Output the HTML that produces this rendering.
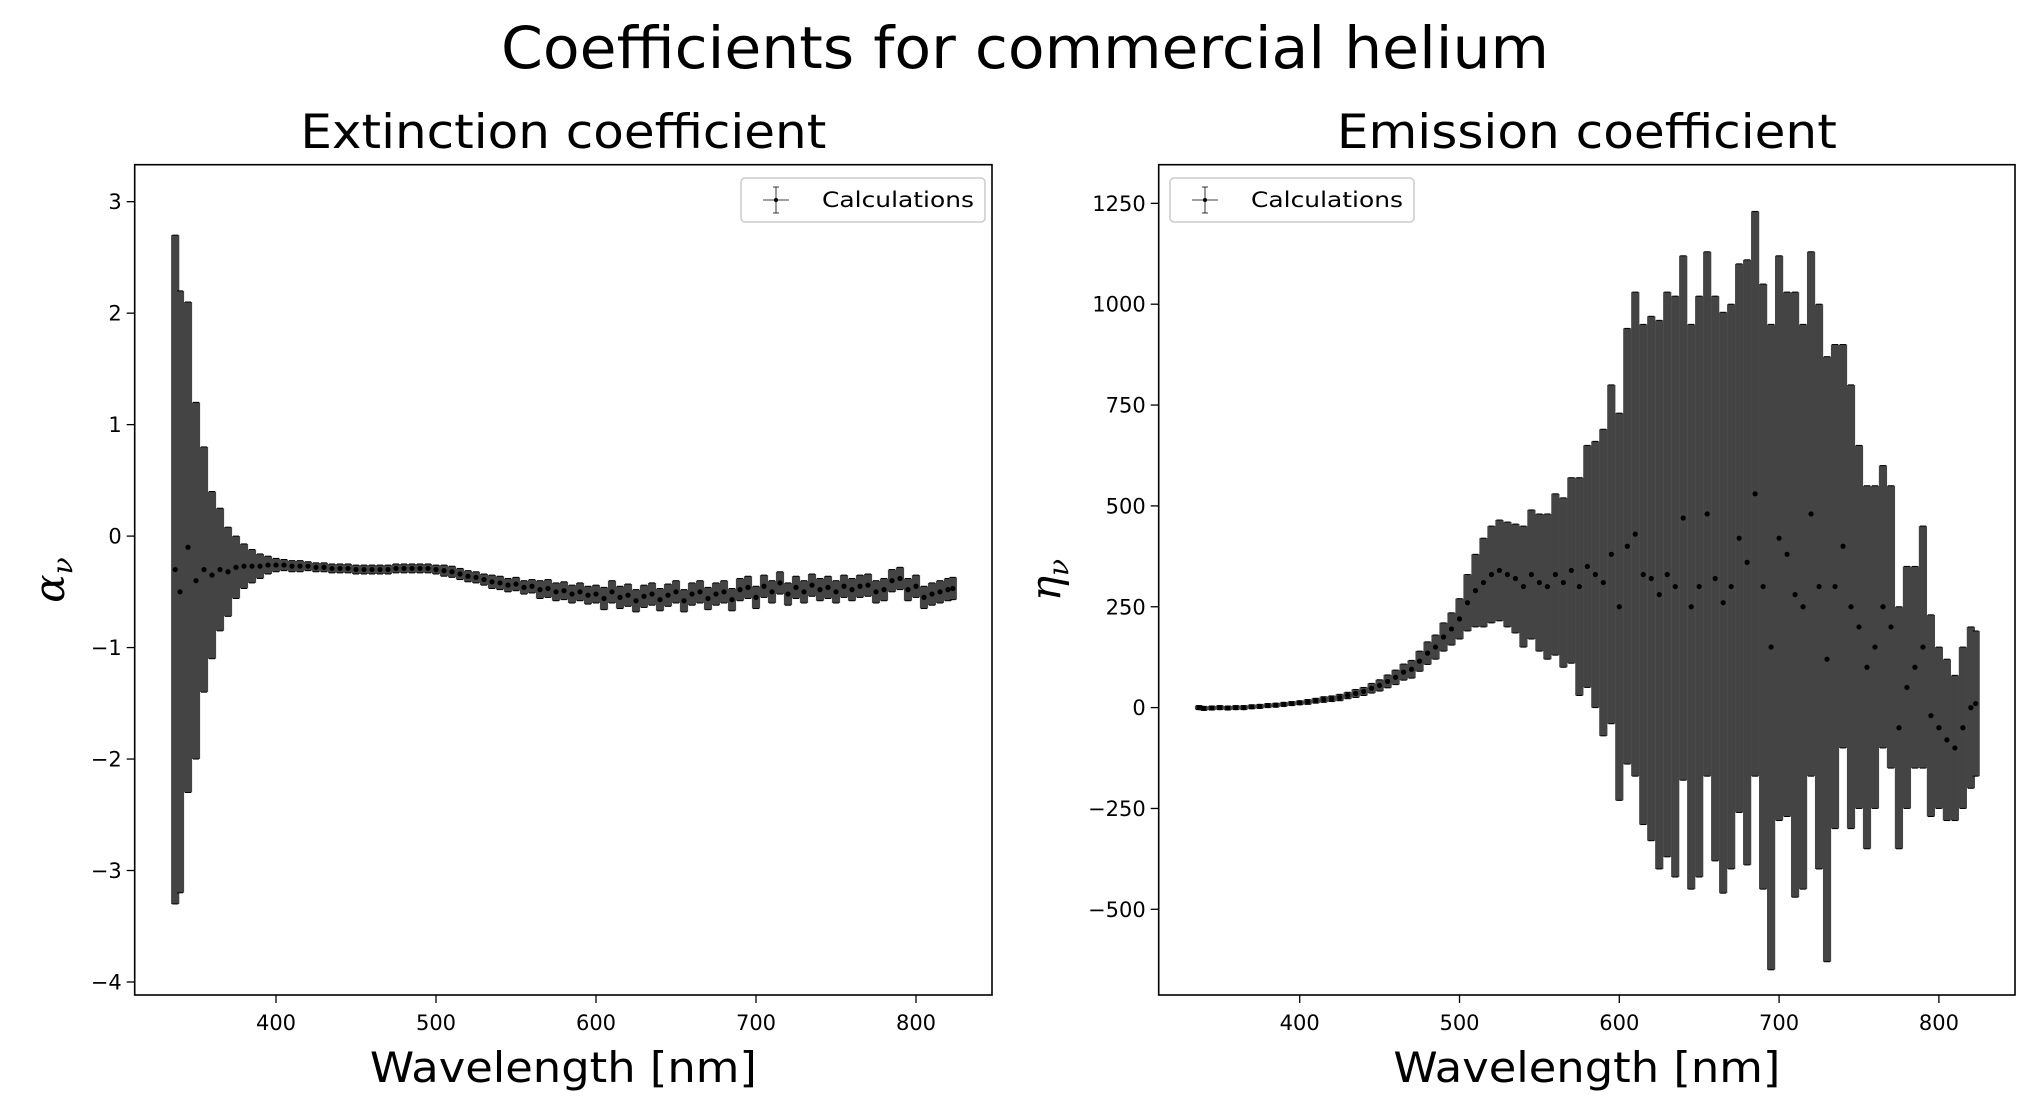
<!DOCTYPE html>
<html><head><meta charset="utf-8"><style>
body{margin:0;background:#fff;}
svg{display:block;font-family:"DejaVu Sans","Liberation Sans",sans-serif;}
</style></head><body>
<svg id="fig" width="2042" height="1118" viewBox="0 0 2042 1118">
<text x="1025" y="68" font-size="58" text-anchor="middle" textLength="1048" lengthAdjust="spacingAndGlyphs">Coefficients for commercial helium</text>
<g id="left"></g>
<g id="right"></g>
</svg>
<script>
const wavelengths=[337,340,345,350,355,360,365,370,375,380,385,390,395,400,405,410,415,420,425,430,435,440,445,450,455,460,465,470,475,480,485,490,495,500,505,510,515,520,525,530,535,540,545,550,555,560,565,570,575,580,585,590,595,600,605,610,615,620,625,630,635,640,645,650,655,660,665,670,675,680,685,690,695,700,705,710,715,720,725,730,735,740,745,750,755,760,765,770,775,780,785,790,795,800,805,810,815,820,823];
const alphaValues=[-0.3,-0.5,-0.1,-0.4,-0.3,-0.35,-0.3,-0.32,-0.28,-0.27,-0.27,-0.27,-0.26,-0.26,-0.26,-0.27,-0.27,-0.27,-0.28,-0.28,-0.29,-0.29,-0.29,-0.3,-0.3,-0.3,-0.3,-0.3,-0.29,-0.29,-0.29,-0.29,-0.29,-0.3,-0.31,-0.32,-0.34,-0.36,-0.37,-0.39,-0.41,-0.42,-0.44,-0.43,-0.46,-0.45,-0.48,-0.47,-0.5,-0.49,-0.52,-0.5,-0.53,-0.52,-0.56,-0.5,-0.55,-0.53,-0.58,-0.54,-0.52,-0.57,-0.53,-0.5,-0.58,-0.52,-0.5,-0.56,-0.52,-0.5,-0.57,-0.48,-0.46,-0.55,-0.45,-0.5,-0.42,-0.52,-0.46,-0.5,-0.44,-0.48,-0.46,-0.5,-0.45,-0.48,-0.45,-0.44,-0.5,-0.48,-0.4,-0.38,-0.48,-0.45,-0.55,-0.52,-0.5,-0.48,-0.47];
const alphaErrors=[3.0,2.7,2.2,1.6,1.1,0.75,0.55,0.4,0.28,0.2,0.15,0.11,0.08,0.06,0.05,0.05,0.05,0.04,0.04,0.04,0.04,0.04,0.04,0.04,0.04,0.04,0.04,0.04,0.04,0.04,0.04,0.04,0.04,0.04,0.05,0.05,0.05,0.05,0.05,0.05,0.06,0.06,0.06,0.06,0.06,0.06,0.08,0.08,0.08,0.08,0.08,0.08,0.08,0.08,0.1,0.1,0.1,0.1,0.1,0.1,0.1,0.1,0.1,0.1,0.1,0.1,0.1,0.1,0.1,0.1,0.1,0.1,0.1,0.1,0.1,0.1,0.1,0.1,0.1,0.1,0.1,0.1,0.1,0.1,0.1,0.1,0.1,0.1,0.1,0.1,0.1,0.1,0.1,0.1,0.1,0.1,0.1,0.1,0.1];
const etaValues=[0,-2,-1,0,-1,0,0,2,3,5,6,8,10,12,14,17,20,22,25,30,35,40,48,55,65,75,88,95,115,135,150,175,195,220,260,290,310,330,340,330,320,300,330,310,300,330,310,340,300,350,330,310,380,250,400,430,330,320,280,330,300,470,250,300,480,320,260,300,420,360,530,300,150,420,380,280,250,480,300,120,300,400,250,200,100,150,250,200,-50,50,100,150,-20,-50,-80,-100,-50,0,10];
const etaErrors=[5,5,5,5,5,5,5,5,5,5,5,5,5,5,6,6,7,7,8,8,10,10,12,14,16,18,20,22,25,28,30,35,40,50,70,90,110,120,125,130,135,150,160,170,180,200,210,230,270,300,330,380,420,480,540,600,620,650,680,700,720,650,700,720,650,700,720,700,680,750,700,750,800,700,650,750,700,650,700,750,600,500,550,450,450,400,350,350,300,300,250,300,250,200,200,180,200,200,180];
const xTicks=[400,500,600,700,800];
const alphaTicks=[3,2,1,0,-1,-2,-3,-4];
const etaTicks=[1250,1000,750,500,250,0,-250,-500];
const NS="http://www.w3.org/2000/svg";
const TOP=164.7,BOT=995;
function mk(p,t,a,txt){const e=document.createElementNS(NS,t);for(const k in a)e.setAttribute(k,a[k]);if(txt!==undefined)e.textContent=txt;p.appendChild(e);return e;}
function fmt(v){return v<0?"\u2212"+(-v):String(v);}
function panel(g,cfg){
  const X=v=>cfg.x400+(v-400)*cfg.pxPerX;
  const Y=v=>cfg.y0-v*cfg.pxPerY;
  const t=mk(g,"text",{x:(cfg.L+cfg.R)/2,y:148,"font-size":47,"text-anchor":"middle",textLength:cfg.titleLen,lengthAdjust:"spacingAndGlyphs"},cfg.title);
  
  
  const bars=mk(g,"g",{});
  
  
  for(let i=0;i<wavelengths.length;i++){
    const x=X(wavelengths[i]),v=cfg.vals[i],e=cfg.errs[i];
    const b=mk(bars,"line",{x1:x,x2:x,y1:Y(v-e),y2:Y(v+e),stroke:"#444","stroke-width":8.2});
    
    
    mk(bars,"line",{x1:x-3,x2:x+3,y1:Y(v+e),y2:Y(v+e),stroke:"#000","stroke-width":1});
    mk(bars,"line",{x1:x-3,x2:x+3,y1:Y(v-e),y2:Y(v-e),stroke:"#000","stroke-width":1});
  }
  for(let i=0;i<wavelengths.length;i++){
    const p=mk(bars,"circle",{cx:X(wavelengths[i]),cy:Y(cfg.vals[i]),r:2.6,fill:"#000"});
    
    
  }
  const fr=mk(g,"rect",{x:cfg.L,y:TOP,width:cfg.R-cfg.L,height:BOT-TOP,fill:"none",stroke:"#000","stroke-width":1.6});
  
  
  xTicks.forEach(v=>{const x=X(v);mk(g,"line",{x1:x,x2:x,y1:BOT,y2:BOT+8,stroke:"#000","stroke-width":1.3});
    const l=mk(g,"text",{x:x,y:1030,"font-size":21,"text-anchor":"middle"},String(v));
    
    });
  cfg.ticks.forEach(v=>{const y=Y(v);mk(g,"line",{x1:cfg.L-8,x2:cfg.L,y1:y,y2:y,stroke:"#000","stroke-width":1.3});
    const l=mk(g,"text",{x:cfg.L-13,y:y+7.5,"font-size":21,"text-anchor":"end"},fmt(v));
    
    });
  const xl=mk(g,"text",{x:(cfg.L+cfg.R)/2,y:1082,"font-size":42,"text-anchor":"middle",textLength:387,lengthAdjust:"spacingAndGlyphs"},"Wavelength [nm]");
  
  
  const yl=mk(g,"text",{x:0,y:0,"font-size":42,"font-style":"italic","font-family":"DejaVu Serif, serif",transform:`translate(${cfg.ylx},580) rotate(-90)`,"text-anchor":"middle"});
  
  
  mk(yl,"tspan",{},cfg.sym);mk(yl,"tspan",{"font-size":28,dy:8},"\u03bd");
  const lg=mk(g,"g",{});
  
  
  mk(lg,"rect",{x:cfg.lgx,y:178,width:244,height:44,rx:4,fill:"#fff",stroke:"#ccc","stroke-width":1.5});
  const mx=cfg.lgx+35;
  mk(lg,"line",{x1:mx-13,x2:mx+13,y1:200,y2:200,stroke:"#000","stroke-width":0.8});
  mk(lg,"line",{x1:mx,x2:mx,y1:187,y2:213,stroke:"#000","stroke-width":0.8});
  mk(lg,"line",{x1:mx-3,x2:mx+3,y1:187,y2:187,stroke:"#000","stroke-width":0.8});
  mk(lg,"line",{x1:mx-3,x2:mx+3,y1:213,y2:213,stroke:"#000","stroke-width":0.8});
  mk(lg,"circle",{cx:mx,cy:200,r:2,fill:"#000"});
  const lt=mk(lg,"text",{x:cfg.lgx+81,y:207,"font-size":21,textLength:152,lengthAdjust:"spacingAndGlyphs"},"Calculations");
  
  
}
panel(document.getElementById("left"),{L:134.7,R:992,x400:276,pxPerX:1.6,y0:536.1,pxPerY:111.47,vals:alphaValues,errs:alphaErrors,ticks:alphaTicks,title:"Extinction coefficient",titleLen:526,ylx:64,sym:"\u03b1",lgx:741});
panel(document.getElementById("right"),{L:1158.7,R:2015,x400:1299.7,pxPerX:1.598,y0:707.6,pxPerY:0.4034,vals:etaValues,errs:etaErrors,ticks:etaTicks,title:"Emission coefficient",titleLen:500,ylx:1060,sym:"\u03b7",lgx:1170});
</script>
</body></html>
